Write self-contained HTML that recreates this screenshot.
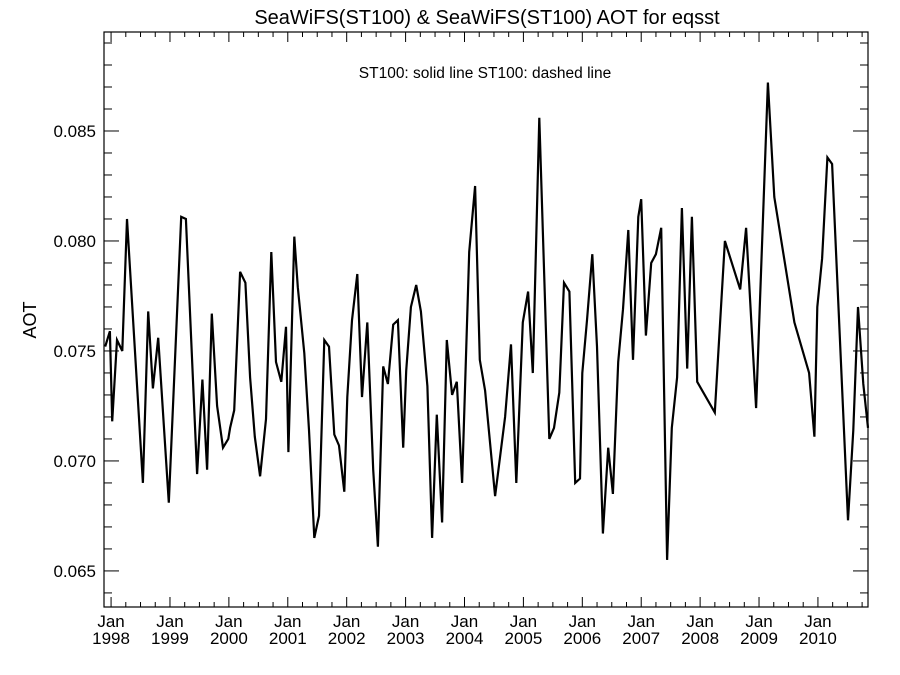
<!DOCTYPE html>
<html><head><meta charset="utf-8"><style>
body{margin:0;background:#fff;}
svg{display:block;font-family:"Liberation Sans",sans-serif;}
</style></head><body>
<svg id="chart" width="900" height="675">
<text x="487" y="24" font-size="20" text-anchor="middle">SeaWiFS(ST100) &amp; SeaWiFS(ST100)  AOT for eqsst</text>
<text x="485" y="78" font-size="15.5" text-anchor="middle">ST100: solid line   ST100: dashed line</text>
<text x="36" y="320" font-size="18" text-anchor="middle" transform="rotate(-90 36 320)">AOT</text>
<rect x="104" y="32" width="764" height="575" fill="none" stroke="#000" stroke-width="1.2"/>
<g id="axes"></g>
<path id="series" fill="none" stroke="#000" stroke-width="2.2" stroke-linejoin="miter"/>
</svg>
<script>
const dates=[1997.90,1997.98,1998.02,1998.10,1998.19,1998.27,1998.54,1998.63,1998.71,1998.80,1998.98,1999.19,1999.27,1999.46,1999.55,1999.63,1999.71,1999.80,1999.90,1999.99,2000.02,2000.09,2000.19,2000.28,2000.36,2000.44,2000.53,2000.63,2000.72,2000.80,2000.89,2000.97,2001.01,2001.11,2001.17,2001.28,2001.36,2001.45,2001.53,2001.62,2001.70,2001.79,2001.87,2001.96,2002.01,2002.09,2002.18,2002.26,2002.35,2002.45,2002.53,2002.62,2002.70,2002.79,2002.87,2002.96,2003.01,2003.09,2003.18,2003.26,2003.37,2003.45,2003.53,2003.62,2003.70,2003.79,2003.87,2003.96,2004.08,2004.18,2004.26,2004.35,2004.52,2004.69,2004.79,2004.88,2004.99,2005.08,2005.16,2005.27,2005.44,2005.52,2005.61,2005.69,2005.78,2005.88,2005.96,2006.00,2006.08,2006.17,2006.25,2006.35,2006.44,2006.52,2006.61,2006.69,2006.78,2006.86,2006.95,2007.00,2007.08,2007.17,2007.25,2007.34,2007.44,2007.52,2007.61,2007.69,2007.78,2007.86,2007.95,2008.25,2008.42,2008.68,2008.78,2008.95,2009.15,2009.26,2009.60,2009.85,2009.94,2009.99,2010.07,2010.16,2010.24,2010.51,2010.60,2010.68,2010.77,2010.85];
const aot=[0.0752,0.0759,0.0718,0.0755,0.0750,0.0810,0.0690,0.0768,0.0733,0.0756,0.0681,0.0811,0.0810,0.0694,0.0737,0.0696,0.0767,0.0725,0.0706,0.0710,0.0715,0.0723,0.0786,0.0781,0.0738,0.0711,0.0693,0.0719,0.0795,0.0745,0.0736,0.0761,0.0704,0.0802,0.0779,0.0749,0.0714,0.0665,0.0675,0.0755,0.0752,0.0712,0.0707,0.0686,0.0729,0.0764,0.0785,0.0729,0.0763,0.0696,0.0661,0.0743,0.0735,0.0762,0.0764,0.0706,0.0741,0.0770,0.0780,0.0768,0.0734,0.0665,0.0721,0.0672,0.0755,0.0730,0.0736,0.0690,0.0795,0.0825,0.0746,0.0732,0.0684,0.0720,0.0753,0.0690,0.0763,0.0777,0.0740,0.0856,0.0710,0.0715,0.0731,0.0781,0.0777,0.0690,0.0692,0.0740,0.0764,0.0794,0.0752,0.0667,0.0706,0.0685,0.0745,0.0769,0.0805,0.0746,0.0811,0.0819,0.0757,0.0790,0.0794,0.0806,0.0655,0.0715,0.0738,0.0815,0.0742,0.0811,0.0736,0.0722,0.0800,0.0778,0.0806,0.0724,0.0872,0.0820,0.0763,0.0740,0.0711,0.0770,0.0792,0.0838,0.0835,0.0673,0.0714,0.0770,0.0735,0.0715];
const yTicks=[0.065,0.070,0.075,0.080,0.085];
const yTickLabels=["0.065","0.070","0.075","0.080","0.085"];
const xYears=[1998,1999,2000,2001,2002,2003,2004,2005,2006,2007,2008,2009,2010];

const X0=104,X1=868,Y0=32,Y1=607;
const xMin=1997.88,xMax=2010.85,yMin=0.06336,yMax=0.0895;
const xs=d=>X0+(d-xMin)/(xMax-xMin)*(X1-X0);
const ys=v=>Y1-(v-yMin)/(yMax-yMin)*(Y1-Y0);
const NS='http://www.w3.org/2000/svg';
const axes=document.getElementById('axes');
function line(x1,y1,x2,y2,name){
  const l=document.createElementNS(NS,'line');
  l.setAttribute('x1',x1);l.setAttribute('y1',y1);l.setAttribute('x2',x2);l.setAttribute('y2',y2);
  l.setAttribute('stroke','#000');l.setAttribute('stroke-width','1');
  
  
  axes.appendChild(l);
}
function text(x,y,s,anchor,name){
  const t=document.createElementNS(NS,'text');
  t.setAttribute('x',x);t.setAttribute('y',y);t.setAttribute('font-size','17');
  t.setAttribute('text-anchor',anchor);t.textContent=s;
  
  
  axes.appendChild(t);
}
// y minor ticks
for(let k=64;k<=89;k++){
  const v=k/1000, y=ys(v), major=(k%5===0);
  const len=major?15:8;
  line(X0,y,X0+len,y,'y-tick');
  line(X1,y,X1-len,y,'y-tick-right');
}
yTicks.forEach((v,i)=>{text(96,ys(v)+6,yTickLabels[i],'end','y-tick-label');});
// x ticks
for(let y=1998;y<=2010;y++){
  for(let q=0;q<4;q++){
    const d=y+q*0.25; if(d>xMax) continue;
    const x=xs(d), len=q===0?10:5;
    line(x,Y1,x,Y1-len,'x-tick');
    line(x,Y0,x,Y0+len,'x-tick-top');
  }
}
xYears.forEach(y=>{
  const x=xs(y);
  text(x,627,'Jan','middle','x-tick-label-month');
  text(x,644,String(y),'middle','x-tick-label-year');
});
let d='';
dates.forEach((t,i)=>{d+=(i?'L':'M')+xs(t).toFixed(1)+' '+ys(aot[i]).toFixed(1);});
document.getElementById('series').setAttribute('d',d);
</script>
</body></html>
